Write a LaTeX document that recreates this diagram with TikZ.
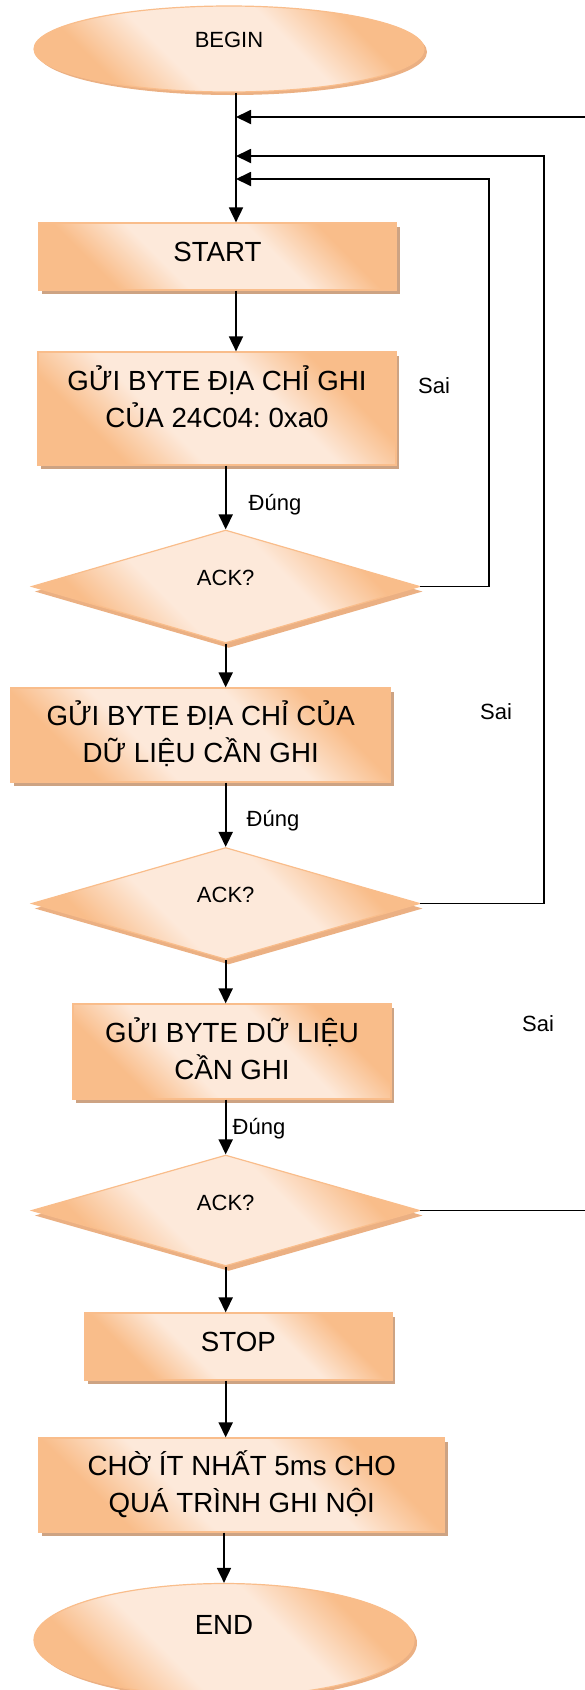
\documentclass[tikz,border=0pt]{standalone}
\usepackage{fontspec}
\setmainfont{Liberation Sans}
\usetikzlibrary{shapes.geometric,shadows,arrows.meta}
\frenchspacing

\definecolor{peachdark}{HTML}{F9BD8A}
\definecolor{peachlight}{HTML}{FDE9DA}
\definecolor{peachedge}{HTML}{F9BD8B}
\definecolor{boxshade}{HTML}{CDA383}
\definecolor{roundshade}{HTML}{EBB083}

% diagonal band: orange corners, light centre
\pgfdeclareverticalshading{peachband}{100bp}{%
  color(0bp)=(peachdark); color(28bp)=(peachdark);
  color(40bp)=(peachlight); color(60bp)=(peachlight);
  color(72bp)=(peachdark); color(100bp)=(peachdark)}

\newcommand\bigtext{\fontsize{27.7}{37}\selectfont}
\newcommand\smalltext{\fontsize{22}{26}\selectfont}

\begin{document}
\begin{tikzpicture}[x=1pt,y=-1pt,
  fillshade/.style={shade, shading=peachband, shading angle=-45},
  procbox/.style={rectangle, draw=peachedge, line width=1.2pt, fillshade,
    inner sep=0pt,
    drop shadow={shadow xshift=3pt, shadow yshift=-4pt, fill=boxshade, opacity=1}},
  decision/.style={diamond, draw=peachedge, line width=1.2pt, fillshade,
    inner sep=0pt, aspect=3,
    drop shadow={shadow xshift=3pt, shadow yshift=-5pt, fill=roundshade, opacity=1}},
  terminal/.style={ellipse, draw=peachedge, line width=1.2pt, fillshade,
    inner sep=0pt,
    drop shadow={shadow xshift=3pt, shadow yshift=-3pt, fill=roundshade, opacity=1}},
  bigtxt/.style={font=\bigtext, align=center, inner sep=0pt},
  smalltxt/.style={font=\smalltext, inner sep=0pt},
  flow/.style={line width=1.8pt, -{Triangle[length=15pt,width=14pt]}}
]
\useasboundingbox (0,0) rectangle (585,1690);

% flowchart blocks
\node[terminal, minimum width=390pt, minimum height=86pt,
  label={[smalltxt, yshift=8.7pt]center:BEGIN}] (begin) at (229,49) {};
\node[procbox, minimum width=358pt, minimum height=67pt,
  label={[bigtxt, yshift=4.8pt]center:START}] (start) at (217.5,256.5) {};
\node[procbox, minimum width=358pt, minimum height=113pt,
  label={[bigtxt, yshift=12pt]center:{GỬI BYTE ĐỊA CHỈ GHI\\CỦA 24C04: 0xa0}}] (addr) at (217,408.5) {};
\node[decision, minimum width=388pt, minimum height=113pt,
  label={[smalltxt, yshift=9pt]center:ACK?}] (ack1) at (225.7,586.5) {};
\node[procbox, minimum width=380pt, minimum height=94pt,
  label={[bigtxt, yshift=1.5pt]center:{GỬI BYTE ĐỊA CHỈ CỦA\\DỮ LIỆU CẦN GHI}}] (data) at (200.7,735) {};
\node[decision, minimum width=388pt, minimum height=112pt,
  label={[smalltxt, yshift=9pt]center:ACK?}] (ack2) at (225.7,903.5) {};
\node[procbox, minimum width=318pt, minimum height=95pt,
  label={[bigtxt, yshift=3pt]center:{GỬI BYTE DỮ LIỆU\\CẦN GHI}}] (byte) at (232,1051.5) {};
\node[decision, minimum width=388pt, minimum height=111pt,
  label={[smalltxt, yshift=8pt]center:ACK?}] (ack3) at (225.7,1210.5) {};
\node[procbox, minimum width=307pt, minimum height=67pt,
  label={[bigtxt, yshift=4.8pt]center:STOP}] (stop) at (238.4,1346.5) {};
\node[procbox, minimum width=406pt, minimum height=94pt,
  label={[bigtxt, yshift=1pt]center:{CHỜ ÍT NHẤT 5ms CHO\\QUÁ TRÌNH GHI NỘI}}] (wait) at (241.8,1485) {};
\node[terminal, minimum width=380pt, minimum height=113pt,
  label={[bigtxt, yshift=15pt]center:END}] (end) at (224,1640) {};

% helper points for the main line and the retry loops
\coordinate (spine) at (236,0);
\coordinate (loopA) at (489,179);
\coordinate (loopB) at (544,156);
\coordinate (loopC) at (610,117);

% main flow
\draw[flow] (begin.south -| spine) -- (start.north -| spine);
\draw[flow] (start.south -| spine) -- (addr.north -| spine);
\draw[flow] (addr.south -| ack1.north) -- (ack1.north);
\draw[flow] (ack1.south) -- (ack1.south |- data.north);
\draw[flow] (data.south -| ack2.north) -- (ack2.north);
\draw[flow] (ack2.south) -- (ack2.south |- byte.north);
\draw[flow] (byte.south -| ack3.north) -- (ack3.north);
\draw[flow] (ack3.south) -- (ack3.south |- stop.north);
\draw[flow] (stop.south -| ack3.south) -- (wait.north -| ack3.south);
\draw[flow] (wait.south -| end.north) -- (end.north);

% retry loops back to START
\draw[flow] (ack1.east) -| (loopA) -- (loopA -| spine);
\draw[flow] (ack2.east) -| (loopB) -- (loopB -| spine);
\draw[flow] (ack3.east) -| (loopC) -- (loopC -| spine);

% branch labels
\node[smalltxt, anchor=base] (no1) at (434,393) {Sai};
\node[smalltxt, anchor=base] (no2) at (496,719) {Sai};
\node[smalltxt, anchor=base] (no3) at (538,1031) {Sai};
\node[smalltxt, anchor=base] (yes1) at (275,510) {Đúng};
\node[smalltxt, anchor=base] (yes2) at (273,826) {Đúng};
\node[smalltxt, anchor=base] (yes3) at (259,1134) {Đúng};
\end{tikzpicture}
\end{document}
